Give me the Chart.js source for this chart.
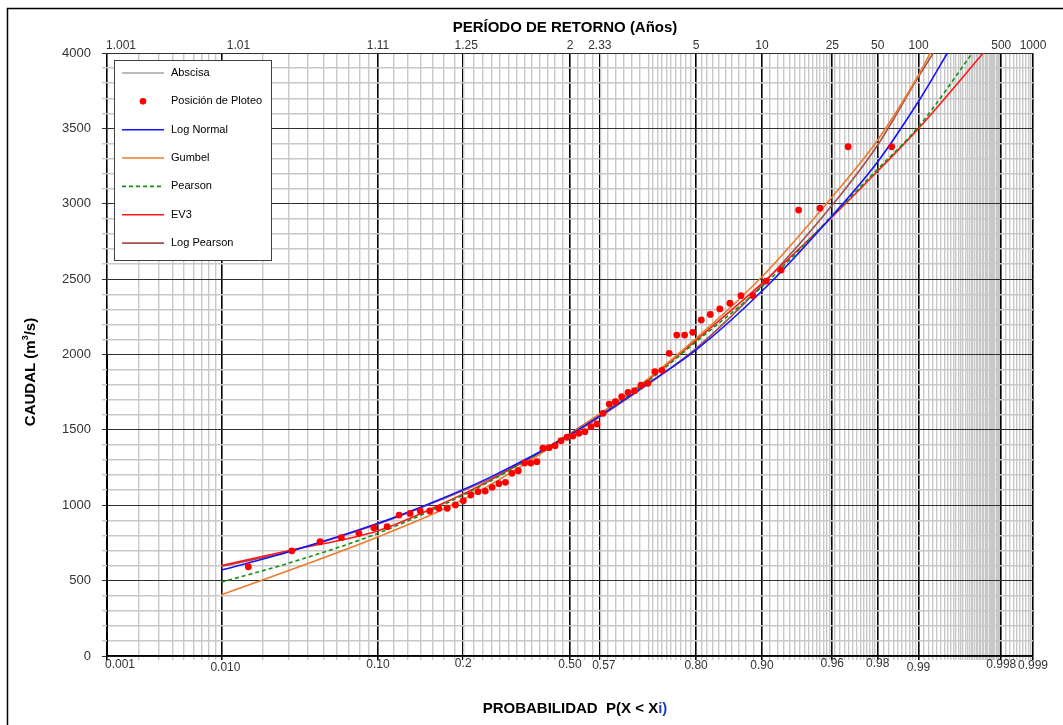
<!DOCTYPE html>
<html><head><meta charset="utf-8">
<script src="https://cdn.jsdelivr.net/npm/chart.js@4.4.1/dist/chart.umd.min.js"></script>
<style>html,body{margin:0;padding:0;background:#fff;overflow:hidden}</style>
</head><body>
<canvas id="c" width="1063" height="725"></canvas>
<script>
// ---------------- DATA ----------------
// Plotting positions (non-exceedance probability) and observed discharges (m3/s)
const plotProb = [0.0159,0.0317,0.0476,0.0635,0.0794,0.0952,0.1111,0.1270,0.1429,0.1587,
  0.1746,0.1905,0.2063,0.2222,0.2381,0.2540,0.2698,0.2857,0.3016,0.3175,
  0.3333,0.3492,0.3651,0.3810,0.3968,0.4127,0.4286,0.4444,0.4603,0.4762,
  0.4921,0.5079,0.5238,0.5397,0.5556,0.5714,0.5873,0.6032,0.6190,0.6349,
  0.6508,0.6667,0.6825,0.6984,0.7143,0.7302,0.7460,0.7619,0.7778,0.7937,
  0.8095,0.8254,0.8413,0.8571,0.8730,0.8889,0.9048,0.9206,0.9365,0.9524,
  0.9683,0.9841];
const plotQ = [592,698,758,785,814,851,858,935,946,962,
  962,980,980,1002,1030,1068,1090,1094,1119,1143,
  1152,1212,1229,1280,1280,1289,1378,1382,1395,1428,
  1451,1459,1477,1488,1521,1539,1610,1671,1687,1720,
  1749,1760,1796,1809,1886,1895,2008,2129,2129,2147,
  2229,2266,2302,2340,2390,2390,2487,2560,2958,2970,
  3378,3378];

// Fitted distributions, read at these probabilities
const curveProb = [0.01,0.03,0.10,0.20,0.30,0.50,0.70,0.80,0.90,0.96,0.98,0.99];
const logNormalQ  = [570,690,880,1050,1190,1468,1810,2030,2421,2921,3279,3680];
const gumbelQ     = [407,566,790,975,1140,1470,1842,2107,2516,3047,3423,3854];
const pearsonQ    = [490,615,814,1005,1165,1475,1826,2085,2450,2921,3230,3511];
const ev3Q        = [600,698,831,1015,1170,1475,1835,2096,2472,2914,3217,3500];
const logPearsonQ = [595,692,875,1045,1180,1462,1805,2040,2460,2991,3390,3843];
// probability at which each curve leaves the top of the plot (Q = 4000)
const topQ = 4000;
const logNormalTopP = 0.99412, gumbelTopP = 0.99191, pearsonTopP = 0.99638, ev3TopP = 0.99710, logPearsonTopP = 0.99235;

// Axis ticks
const probTickValues = [0.001,0.01,0.1,0.238,0.5,0.579,0.8,0.9,0.96,0.98,0.99,0.998,0.999];
const probTickLabels = ['0.001','0.010','0.10','0.2','0.50','0.57','0.80','0.90','0.96','0.98','0.99','0.998','0.999'];
const returnTickLabels = ['1.001','1.01','1.11','1.25','2','2.33','5','10','25','50','100','500','1000'];
const qMin = 0, qMax = 4000, qMajorStep = 500, qMinorStep = 100;

// label nudges (layout only, px)
const topLabelDx = [14,17,0,3,0,0,0,0,0,0,0,0,0];
const botLabelDx = [13,4,0,0,0,4,0,0,0,0,0,0,0];
const botLabelDy = [0,3,0,-1,0,1,1,1,-1,-1,3,0,1];

// ---------------- helpers ----------------
function probit(p){
  const a=[-3.969683028665376e+01,2.209460984245205e+02,-2.759285104469687e+02,1.383577518672690e+02,-3.066479806614716e+01,2.506628277459239e+00];
  const b=[-5.447609879822406e+01,1.615858368580409e+02,-1.556989798598866e+02,6.680131188771972e+01,-1.328068155288572e+01];
  const c=[-7.784894002430293e-03,-3.223964580411365e-01,-2.400758277161838e+00,-2.549732539343734e+00,4.374664141464968e+00,2.938163982698783e+00];
  const d=[7.784695709041462e-03,3.224671290700398e-01,2.445134137142996e+00,3.754408661907416e+00];
  const pl=0.02425, ph=1-pl; let q,r;
  if(p<pl){q=Math.sqrt(-2*Math.log(p));return (((((c[0]*q+c[1])*q+c[2])*q+c[3])*q+c[4])*q+c[5])/((((d[0]*q+d[1])*q+d[2])*q+d[3])*q+1);}
  if(p<=ph){q=p-0.5;r=q*q;return (((((a[0]*r+a[1])*r+a[2])*r+a[3])*r+a[4])*r+a[5])*q/(((((b[0]*r+b[1])*r+b[2])*r+b[3])*r+b[4])*r+1);}
  q=Math.sqrt(-2*Math.log(1-p));return -(((((c[0]*q+c[1])*q+c[2])*q+c[3])*q+c[4])*q+c[5])/((((d[0]*q+d[1])*q+d[2])*q+d[3])*q+1);
}
function curve(qs, topP){
  const pts = curveProb.map((p,i)=>({x:probit(p), y:qs[i]}));
  pts.push({x:probit(topP), y:topQ});
  return pts;
}
// minor vertical grid (probability paper rulings)
function minorGrid(){
  const g=[];
  for(let i=2;i<=9;i++) g.push(i/1000);
  for(let i=2;i<=9;i++) g.push(i/100);
  for(let i=12;i<=48;i+=2) g.push(i/100);
  for(let i=52;i<=70;i+=2) g.push(i/100);
  for(let i=71;i<=79;i++) g.push(i/100);
  for(let i=81;i<=89;i++) g.push(i/100);
  for(let T=11;T<=24;T++) g.push(1-1/T);
  for(let T=26;T<=48;T+=2) g.push(1-1/T);
  for(let T=55;T<=95;T+=5) g.push(1-1/T);
  for(let T=110;T<=490;T+=10) g.push(1-1/T);
  for(let T=550;T<=950;T+=50) g.push(1-1/T);
  return g;
}
const zMin = probit(0.001), zMax = probit(0.999);
const FONT = "'Liberation Sans', Arial, sans-serif";

// ---------------- plugins ----------------
const decor = {
  id:'decor',
  beforeDraw(chart){
    const ctx=chart.ctx; ctx.save(); ctx.fillStyle='#fff'; ctx.fillRect(0,0,chart.width,chart.height); ctx.restore();
  },
  afterDraw(chart){
    const ctx=chart.ctx; ctx.save();
    const sx=chart.scales.x, st=chart.scales.x2;
    ctx.fillStyle='#333'; ctx.font="12px "+FONT; ctx.textAlign='center';
    ctx.textBaseline='top';
    probTickValues.forEach((p,i)=>ctx.fillText(probTickLabels[i], sx.getPixelForValue(probit(p))+botLabelDx[i], 659+botLabelDy[i]));
    ctx.textBaseline='bottom';
    probTickValues.forEach((p,i)=>ctx.fillText(returnTickLabels[i], st.getPixelForValue(probit(p))+topLabelDx[i], 52));
    // outer frame
    ctx.strokeStyle='#000'; ctx.lineWidth=1.5; ctx.strokeRect(7.5,8.5,chart.width+20,chart.height+20);
    // titles
    ctx.fillStyle='#000'; ctx.textAlign='center'; ctx.textBaseline='middle';
    ctx.font="bold 15px "+FONT;
    ctx.fillText('PERÍODO DE RETORNO (Años)',565,28);
    const t1='PROBABILIDAD  P(X < X', t2='i)';
    const w1=ctx.measureText(t1).width, w2=ctx.measureText(t2).width;
    let x0=575-(w1+w2)/2; ctx.textAlign='left';
    ctx.fillText(t1,x0,709); ctx.fillStyle='#1F3FBF'; ctx.fillText(t2,x0+w1,709);
    // y title
    ctx.fillStyle='#000'; ctx.save(); ctx.translate(31,372); ctx.rotate(-Math.PI/2);
    const a='CAUDAL (m', b='3', c='/s)';
    ctx.font="bold 15px "+FONT; const wa=ctx.measureText(a).width, wc=ctx.measureText(c).width;
    ctx.font="bold 9px "+FONT; const wb=ctx.measureText(b).width;
    let s0=-(wa+wb+wc)/2; ctx.textAlign='left';
    ctx.font="bold 15px "+FONT; ctx.fillText(a,s0,0);
    ctx.font="bold 9px "+FONT; ctx.fillText(b,s0+wa,-5);
    ctx.font="bold 15px "+FONT; ctx.fillText(c,s0+wa+wb,0);
    ctx.restore();
    // legend
    const items=chart.data.datasets.filter(d=>d.inLegend);
    const bx=114.5, by=60.5, bw=157, bh=200;
    ctx.fillStyle='#fff'; ctx.fillRect(bx,by,bw,bh);
    ctx.strokeStyle='#404040'; ctx.lineWidth=1; ctx.strokeRect(bx,by,bw,bh);
    ctx.font="11px "+FONT; ctx.textBaseline='middle'; ctx.textAlign='left';
    items.forEach((d,i)=>{
      const y=73+i*28.35;
      if(d.showLine===false){
        ctx.fillStyle=d.backgroundColor; ctx.beginPath(); ctx.arc(143,y,3.3,0,Math.PI*2); ctx.fill();
      } else {
        ctx.strokeStyle=d.borderColor; ctx.lineWidth=d.borderWidth||1.5; ctx.setLineDash(d.borderDash||[]);
        ctx.beginPath(); ctx.moveTo(122,y); ctx.lineTo(164,y); ctx.stroke(); ctx.setLineDash([]);
      }
      ctx.fillStyle='#000'; ctx.fillText(d.label,171,y);
    });
    ctx.restore();
  }
};

// ---------------- chart ----------------
const minor = minorGrid();
const lw = 1.6;
new Chart(document.getElementById('c'),{
  type:'scatter',
  data:{datasets:[
    {label:'Abscisa', inLegend:true, data:[], showLine:true, borderColor:'#A6A6A6', borderWidth:1.5, pointRadius:0},
    {label:'Posición de Ploteo', inLegend:true, showLine:false, data:plotProb.map((p,i)=>({x:probit(p),y:plotQ[i]})),
      backgroundColor:'#FF0000', borderWidth:0, pointRadius:3.4},
    {label:'Log Normal', inLegend:true, showLine:true, data:curve(logNormalQ,logNormalTopP), borderColor:'#1414FF', borderWidth:lw, pointRadius:0, cubicInterpolationMode:'monotone'},
    {label:'Gumbel', inLegend:true, showLine:true, data:curve(gumbelQ,gumbelTopP), borderColor:'#EC7A2C', borderWidth:lw, pointRadius:0, cubicInterpolationMode:'monotone'},
    {label:'Pearson', inLegend:true, showLine:true, data:curve(pearsonQ,pearsonTopP), borderColor:'#119311', borderWidth:lw, borderDash:[4,3], pointRadius:0, cubicInterpolationMode:'monotone'},
    {label:'EV3', inLegend:true, showLine:true, data:curve(ev3Q,ev3TopP), borderColor:'#FF1A1A', borderWidth:lw, pointRadius:0, cubicInterpolationMode:'monotone'},
    {label:'Log Pearson', inLegend:true, showLine:true, data:curve(logPearsonQ,logPearsonTopP), borderColor:'#A05050', borderWidth:lw, pointRadius:0, cubicInterpolationMode:'monotone'},
    {label:'axis', inLegend:false, showLine:true, data:[{x:zMin,y:0},{x:zMin,y:2000}], borderColor:'#000', borderWidth:2, pointRadius:0}
  ]},
  options:{
    responsive:false, animation:false,
    layout:{padding:{left:0,right:30,top:0,bottom:0}},
    plugins:{legend:{display:false}, tooltip:{enabled:false}},
    scales:{
      x:{type:'linear', position:'bottom', min:zMin, max:zMax,
        afterBuildTicks(s){
          const t=minor.map(p=>({value:probit(p), kind:0}));
          probTickValues.forEach(p=>t.push({value:probit(p), kind:1}));
          t.sort((a,b)=>a.value-b.value); s.ticks=t;
        },
        afterFit(s){ s.height=69; },
        grid:{color:c=>c.tick&&c.tick.kind?'#000':'#C8C8C8', lineWidth:c=>c.tick&&c.tick.kind?1.6:1.4, tickLength:4, drawTicks:true},
        border:{display:true,color:'#000',width:1.5},
        ticks:{autoSkip:false, maxRotation:0, minRotation:0, callback:()=>''}
      },
      x2:{type:'linear', position:'top', min:zMin, max:zMax,
        afterBuildTicks(s){ s.ticks=probTickValues.map(p=>({value:probit(p)})); },
        afterFit(s){ s.height=53; },
        grid:{display:false, drawTicks:false}, border:{display:false},
        ticks:{autoSkip:false, maxRotation:0, minRotation:0, callback:()=>''}
      },
      y:{type:'linear', position:'left', min:qMin, max:qMax, z:-1,
        afterBuildTicks(s){ const t=[]; for(let v=qMin; v<=qMax; v+=qMinorStep) t.push({value:v}); s.ticks=t; },
        afterFit(s){ s.width=107; },
        grid:{color:c=>c.tick&&c.tick.value%qMajorStep===0?'#303030':'#C8C8C8', lineWidth:c=>c.tick&&c.tick.value%qMajorStep===0?1:1.4, tickLength:5},
        border:{display:false},
        ticks:{autoSkip:false, padding:11, color:'#333', font:{family:FONT,size:13},
          callback:v=>v%qMajorStep===0?String(v):''}
      }
    }
  },
  plugins:[decor]
});
</script>
</body></html>
